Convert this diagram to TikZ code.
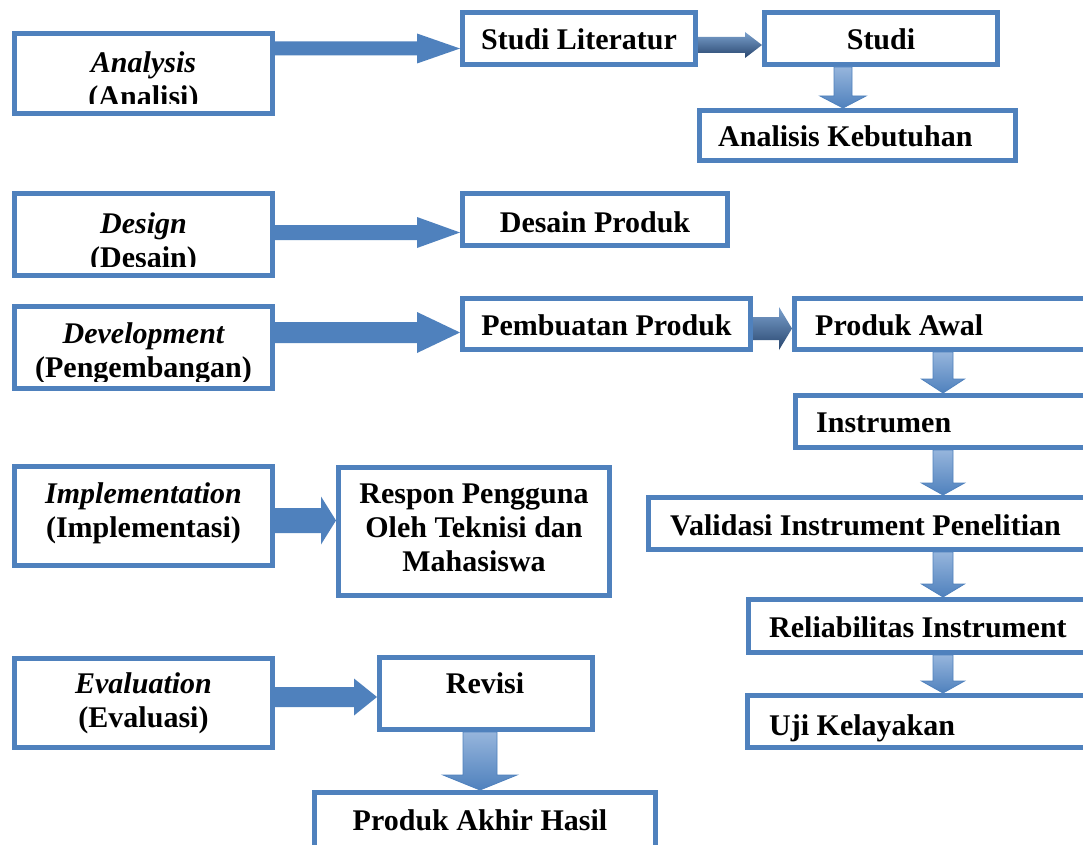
\documentclass[tikz,border=0pt]{standalone}
\usepackage{fontspec}
\setmainfont{Liberation Serif}
\usetikzlibrary{calc}
\definecolor{obl}{RGB}{79,129,189}
\definecolor{obllt}{RGB}{150,181,220}
\definecolor{obldk}{RGB}{40,70,110}
\tikzset{
  box/.style={draw=obl, line width=5pt, fill=white, rectangle, inner sep=0pt},
  txt/.style={inner sep=0pt, anchor=base, font=\fontsize{30}{34}\selectfont\bfseries},
  ltxt/.style={txt, anchor=base west},
  flat/.style={fill=obl},
  vgrad/.style={top color=obllt, bottom color=obl, draw=obl, line width=0.8pt},
  hgrad/.style={top color=obl!75!white, bottom color=obldk},
}
\newcommand\mlines[1]{\begin{tabular}[t]{@{}c@{}}#1\end{tabular}}
% horizontal block arrow: [style]{from}{to}{y}{shaft half}{head half}{head length}
\newcommand\harr[7][]{%
  \pgfmathsetmacro\arA{#4-#5}\pgfmathsetmacro\arB{#4+#5}%
  \pgfmathsetmacro\arC{#4-#6}\pgfmathsetmacro\arD{#4+#6}%
  \path[#1] (#2.east |- 0,\arA) -- ($(#3.west |- 0,\arA)+(-#7,0)$)
    -- ($(#3.west |- 0,\arC)+(-#7,0)$) -- (#3.west |- 0,#4)
    -- ($(#3.west |- 0,\arD)+(-#7,0)$) -- ($(#3.west |- 0,\arB)+(-#7,0)$)
    -- (#2.east |- 0,\arB) -- cycle;}
% vertical block arrow: [style]{from}{to}{x}{shaft half}{head half}{head length}
\newcommand\varr[7][]{%
  \pgfmathsetmacro\arA{#4-#5}\pgfmathsetmacro\arB{#4+#5}%
  \pgfmathsetmacro\arC{#4-#6}\pgfmathsetmacro\arD{#4+#6}%
  \path[#1] (#2.south -| \arA,0) -- ($(#3.north -| \arA,0)+(0,-#7)$)
    -- ($(#3.north -| \arC,0)+(0,-#7)$) -- (#3.north -| #4,0)
    -- ($(#3.north -| \arD,0)+(0,-#7)$) -- ($(#3.north -| \arB,0)+(0,-#7)$)
    -- (#2.south -| \arB,0) -- cycle;}

\begin{document}
\begin{tikzpicture}[x=1pt,y=-1pt]
\useasboundingbox (0,0) rectangle (1083,845);
\clip (0,0) rectangle (1083,845);
\fill[white] (0,0) rectangle (1083,845);

% boxes
\node[box, minimum width=258, minimum height=80] (ana) at (143.5,73.5) {};
\node[box, minimum width=233, minimum height=52] (lit) at (579,38.5) {};
\node[box, minimum width=233, minimum height=52] (stu) at (881,38.5) {};
\node[box, minimum width=316, minimum height=50] (keb) at (857.5,135.5) {};
\node[box, minimum width=258, minimum height=82] (des) at (143.5,234.5) {};
\node[box, minimum width=265, minimum height=52] (dpr) at (595,219.5) {};
\node[box, minimum width=258, minimum height=82] (dev) at (143.5,347.5) {};
\node[box, minimum width=288, minimum height=51] (pem) at (606.5,324) {};
\node[box, minimum width=303, minimum height=51] (awl) at (946,324) {};
\node[box, minimum width=302, minimum height=52] (ins) at (946.5,421.5) {};
\node[box, minimum width=449, minimum height=52] (val) at (873,523.5) {};
\node[box, minimum width=349, minimum height=53] (rel) at (923,626) {};
\node[box, minimum width=350, minimum height=52] (uji) at (922.5,721.5) {};
\node[box, minimum width=258, minimum height=99] (imp) at (143.5,516) {};
\node[box, minimum width=271, minimum height=128] (res) at (474,531.5) {};
\node[box, minimum width=258, minimum height=89] (eva) at (143.5,703) {};
\node[box, minimum width=213, minimum height=72] (rev) at (486,693.5) {};
\node[box, minimum width=341, minimum height=80] (akh) at (485,832.5) {};

% arrows
\harr[flat]{ana}{lit}{48.5}{7}{15}{43}
\harr[hgrad]{lit}{stu}{45}{8}{13}{17}
\varr[vgrad]{stu}{keb}{843}{9}{23}{12}
\harr[flat]{des}{dpr}{232.5}{7.5}{15.5}{43}
\harr[flat]{dev}{pem}{332.5}{10.5}{20.5}{43}
\harr[hgrad]{pem}{awl}{328.5}{11.5}{21.5}{13}
\varr[vgrad]{awl}{ins}{943}{10}{21.5}{14}
\varr[vgrad]{ins}{val}{943}{10}{21.5}{12}
\varr[vgrad]{val}{rel}{943}{10}{21.5}{13}
\varr[vgrad]{rel}{uji}{943}{10}{21.5}{12}
\harr[flat]{imp}{res}{520.5}{12.5}{24}{15}
\harr[flat]{eva}{rev}{697}{10}{18.5}{23}
\varr[vgrad]{rev}{akh}{480}{17}{37}{15}

% texts
\node[txt] (tana1) at (143.5,73) {\itshape Analysis};
\begin{scope}
  \clip (14,80) rectangle (273,103.5);
  \node[txt] (tana2) at (143.5,107) {(Analisi)};
\end{scope}
\node[txt] (tlit) at (579,50) {Studi Literatur};
\node[txt] (tstu) at (881,50) {Studi};
\node[ltxt] (tkeb) at (718,147) {Analisis Kebutuhan};

\node[txt] (tdes1) at (143.5,233) {\itshape Design};
\begin{scope}
  \clip (14,240) rectangle (273,266);
  \node[txt] (tdes2) at (143.5,267) {(Desain)};
\end{scope}
\node[txt] (tdpr) at (595,232) {Desain Produk};

\node[txt] (tdev1) at (143.5,343) {\itshape Development};
\begin{scope}
  \clip (14,350) rectangle (273,381);
  \node[txt] (tdev2) at (143.5,377) {(Pengembangan)};
\end{scope}
\node[txt] (tpem) at (606.5,335) {Pembuatan Produk};
\node[ltxt] (tawl) at (815,335) {Produk Awal};
\node[ltxt] (tins) at (816,432) {Instrumen};
\node[ltxt] (tval) at (670,535) {Validasi Instrument Penelitian};
\node[ltxt] (trel) at (769,637) {Reliabilitas Instrument};
\node[ltxt] (tuji) at (769,735) {Uji Kelayakan};

\node[txt] (timp) at (143.5,503) {\mlines{\itshape Implementation\\(Implementasi)}};
\node[txt] (tres) at (474,503) {\mlines{Respon Pengguna\\Oleh Teknisi dan\\Mahasiswa}};

\node[txt] (teva) at (143.5,693) {\mlines{\itshape Evaluation\\(Evaluasi)}};
\node[txt] (trev) at (485,693) {Revisi};
\node[txt] (takh) at (480,830) {Produk Akhir Hasil};
\end{tikzpicture}
\end{document}
